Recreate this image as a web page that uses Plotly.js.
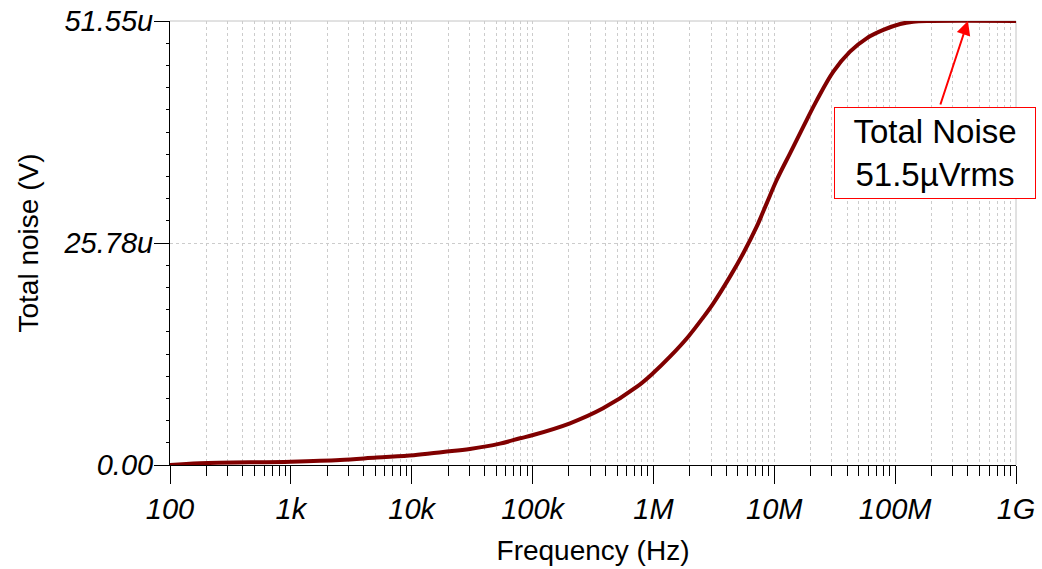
<!DOCTYPE html>
<html>
<head>
<meta charset="utf-8">
<script src="https://cdn.plot.ly/plotly-3.0.1.min.js"></script>
<style>html,body{margin:0;padding:0;background:#fff;}#chart{width:1042px;height:569px;}</style>
</head>
<body>
<div id="chart"></div>
<script>
// ---- data ----
var freqHz = [100, 177, 1000, 2550, 5130, 10400, 18200, 30300, 53700, 78700, 101000, 204000, 383000, 731000, 991000, 1.37e6, 1.94e6, 2.57e6, 3.13e6, 4.30e6, 5.54e6, 7.15e6, 8.65e6, 1.047e7, 1.35e7, 1.74e7, 2.24e7, 3.08e7, 4.23e7, 5.81e7, 7.98e7, 1.10e8, 1.41e8, 2.0e8, 1e9];
var noiseUV = [0, 0.2, 0.39, 0.58, 0.86, 1.13, 1.51, 1.86, 2.48, 3.10, 3.48, 4.84, 6.58, 9.09, 10.65, 12.58, 14.90, 17.1, 18.77, 21.87, 24.58, 27.67, 30.38, 33.09, 36.19, 39.28, 42.3, 45.67, 47.99, 49.54, 50.51, 51.2, 51.47, 51.55, 51.55];

var xTickVals = [100, 1e3, 1e4, 1e5, 1e6, 1e7, 1e8, 1e9];
var xTickText = ['100', '1k', '10k', '100k', '1M', '10M', '100M', '1G'];
var yTickVals = [0, 25.775, 51.55];
var yTickText = ['0.00', '25.78u', '51.55u'];
var yHalfTickVals = [12.8875, 38.6625];
var yMax = 51.55;
var yMinorStep = 2.5775;

var arrowFreq = 4.0e8;
var arrowValue = 51.55;
var annotText = 'Total Noise<br>51.5µVrms';

// ---- chart ----
var FONT = 'Liberation Sans, Arial, sans-serif';

var trace = {
  x: freqHz,
  y: noiseUV,
  type: 'scatter',
  mode: 'lines',
  line: {color: '#800000', width: 4, shape: 'spline', smoothing: 1},
  cliponaxis: false,
  hoverinfo: 'x+y'
};

var layout = {
  width: 1042,
  height: 569,
  margin: {l: 170, r: 26, t: 21, b: 104},
  paper_bgcolor: '#ffffff',
  plot_bgcolor: '#ffffff',
  showlegend: false,
  font: {family: FONT, color: '#000'},
  xaxis: {
    type: 'log',
    range: [2, 9],
    tickmode: 'array',
    tickvals: xTickVals,
    ticktext: xTickText,
    ticks: 'outside',
    ticklen: 18,
    tickwidth: 1,
    tickcolor: '#000',
    ticklabelstandoff: 0,
    tickfont: {family: FONT, size: 29, style: 'italic', color: '#000'},
    showline: true,
    linecolor: '#000',
    linewidth: 1,
    showgrid: true,
    gridcolor: '#cccccc',
    griddash: 'dot',
    gridwidth: 1,
    zeroline: false,
    minor: {
      dtick: 'D1',
      ticks: 'outside',
      ticklen: 10,
      tickcolor: '#000',
      tickwidth: 1,
      showgrid: true,
      gridcolor: '#cccccc',
      griddash: 'dot',
      gridwidth: 1
    },
    title: {text: 'Frequency (Hz)', font: {family: FONT, size: 28, color: '#000'}, standoff: 16},
    automargin: false
  },
  yaxis: {
    range: [0, yMax],
    tickmode: 'array',
    tickvals: yTickVals,
    ticktext: yTickText,
    ticks: 'outside',
    ticklen: 15,
    tickwidth: 1,
    tickcolor: '#000',
    ticklabelstandoff: -5,
    tickfont: {family: FONT, size: 29, style: 'italic', color: '#000'},
    showline: true,
    linecolor: '#000',
    linewidth: 1,
    showgrid: true,
    gridcolor: '#cccccc',
    griddash: 'dot',
    gridwidth: 1,
    zeroline: false,
    minor: {
      dtick: yMinorStep,
      tick0: 0,
      ticks: 'outside',
      ticklen: 3,
      tickcolor: '#000',
      tickwidth: 1,
      showgrid: false
    },
    title: {text: 'Total noise (V)', font: {family: FONT, size: 28, color: '#000'}, standoff: 16},
    automargin: false
  },
  yaxis2: {
    overlaying: 'y',
    side: 'left',
    range: [0, yMax],
    tickmode: 'array',
    tickvals: yHalfTickVals,
    ticktext: ['', ''],
    ticks: 'outside',
    ticklen: 7,
    tickcolor: '#707070',
    tickwidth: 1,
    showticklabels: false,
    showgrid: false,
    showline: false,
    zeroline: false,
    fixedrange: true
  },
  shapes: [
    {type: 'line', xref: 'paper', yref: 'paper', x0: 0, x1: 1, y0: 1, y1: 1, line: {color: '#c4c4c4', width: 1}, layer: 'below'},
    {type: 'line', xref: 'paper', yref: 'paper', x0: 1, x1: 1, y0: 0, y1: 1, line: {color: '#c4c4c4', width: 1}, layer: 'below'}
  ],
  annotations: [
    {
      // label box
      xref: 'paper', yref: 'paper',
      x: 0.9043, y: 0.7027,
      xanchor: 'center', yanchor: 'middle',
      text: annotText,
      showarrow: false,
      bordercolor: '#ff0000',
      borderwidth: 1,
      borderpad: 2,
      bgcolor: '#ffffff',
      width: 196,
      height: 86,
      align: 'center',
      font: {family: FONT, size: 33, color: '#000'}
    },
    {
      // arrow from box top to the curve
      x: Math.log10(arrowFreq),
      y: arrowValue,
      xref: 'x', yref: 'y',
      text: '',
      showarrow: true,
      arrowhead: 2,
      arrowsize: 1.4,
      arrowwidth: 2,
      arrowcolor: '#ff0000',
      standoff: 0,
      ax: -28,
      ay: 85
    }
  ]
};

Plotly.newPlot('chart', [trace], layout, {displayModeBar: false, staticPlot: true});
</script>
</body>
</html>
